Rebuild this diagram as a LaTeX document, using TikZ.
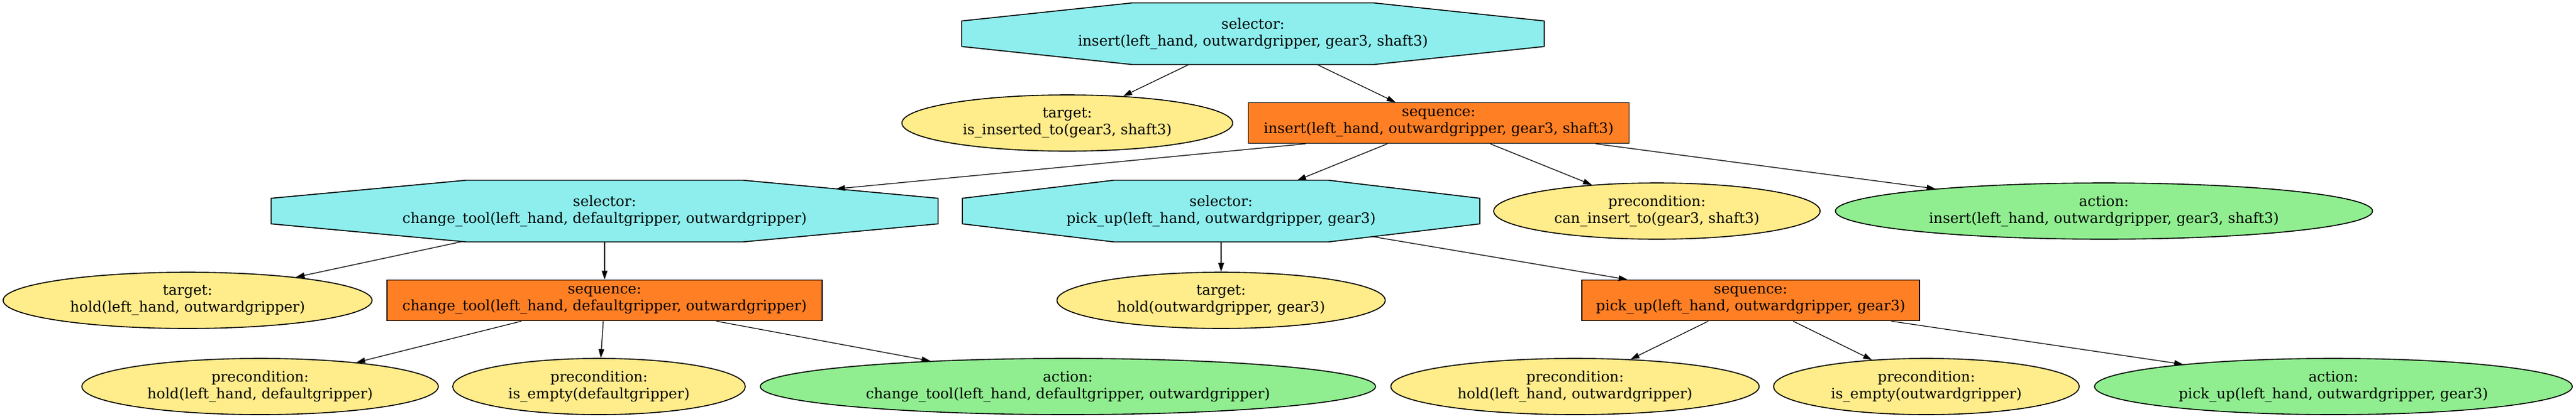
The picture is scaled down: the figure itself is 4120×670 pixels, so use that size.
\documentclass[tikz,border=0pt]{standalone}
\usepackage{fontspec}
\setmainfont{DejaVu Serif}
\usetikzlibrary{shapes,arrows.meta,calc,backgrounds}
\usepackage{xcolor}
\definecolor{selcol}{HTML}{8EEEEE}
\definecolor{seqcol}{HTML}{FF7F24}
\definecolor{condcol}{HTML}{FFEC8B}
\definecolor{actcol}{HTML}{90EE90}

\begin{document}
\begin{tikzpicture}[x=0.5pt,y=-0.5pt,%
		   font=\fontsize{11.5}{13.5}\selectfont,
		   every node/.style={align=center,inner sep=0pt},
		   selector/.style={rectangle,minimum height=49pt},
		   sequence/.style={draw,line width=0.8pt,fill=seqcol,rectangle,minimum height=32.5pt},
		   condition/.style={draw,line width=0.8pt,fill=condcol,ellipse,minimum height=45pt},
		   action/.style={draw,line width=0.8pt,fill=actcol,ellipse,minimum height=45pt},
		   octo/.style={draw,line width=0.8pt,fill=selcol},
		   edge/.style={-{Triangle[length=7pt,width=4.5pt]},line width=0.6pt}]
	\useasboundingbox (0,0) rectangle (4120,670);

	    \foreach \n/\x/\y/\s/\w/\t in {%
	       sel-insert/2004/54/selector/931/{selector:\\insert(left\_hand, outwardgripper, gear3, shaft3)},%
	       tgt-inserted/1707/197/condition/529/{target:\\is\_inserted\_to(gear3, shaft3)},%
	       seq-insert/2301/197/sequence/609/{sequence:\\insert(left\_hand, outwardgripper, gear3, shaft3)},%
	       sel-tool/967/338/selector/1066/{selector:\\change\_tool(left\_hand, defaultgripper, outwardgripper)},%
	       sel-pick/1953/338/selector/827/{selector:\\pick\_up(left\_hand, outwardgripper, gear3)},%
	       pre-insert/2650/338/condition/522/{precondition:\\can\_insert\_to(gear3, shaft3)},%
	       act-insert/3365/338/action/859/{action:\\insert(left\_hand, outwardgripper, gear3, shaft3)},%
	       tgt-holdtool/300/481/condition/590/{target:\\hold(left\_hand, outwardgripper)},%
	       seq-tool/967/481/sequence/696/{sequence:\\change\_tool(left\_hand, defaultgripper, outwardgripper)},%
	       tgt-holdgear/1953/481/condition/525/{target:\\hold(outwardgripper, gear3)},%
	       seq-pick/2800/481/sequence/540/{sequence:\\pick\_up(left\_hand, outwardgripper, gear3)},%
	       pre-holddef/416/619/condition/570/{precondition:\\hold(left\_hand, defaultgripper)},%
	       pre-emptydef/958/619/condition/468/{precondition:\\is\_empty(defaultgripper)},%
	       act-tool/1708/619/action/984/{action:\\change\_tool(left\_hand, defaultgripper, outwardgripper)},%
	       pre-holdout/2519/619/condition/589/{precondition:\\hold(left\_hand, outwardgripper)},%
	       pre-emptyout/3081/619/condition/489/{precondition:\\is\_empty(outwardgripper)},%
	       act-pick/3732/619/action/764/{action:\\pick\_up(left\_hand, outwardgripper, gear3)}%
	       } { \node[\s,minimum width=\w*0.5pt] (\n) at (\x,\y) {\t}; }

	    % octagons behind the selector texts, corners named \n-1 .. \n-8
	    \begin{scope}[on background layer]
	    \foreach \n in {sel-insert,sel-tool,sel-pick}
	       \draw[octo] ($(\n.north)!.414!(\n.north east)$) coordinate (\n-1)
	          -- ($(\n.east)!.414!(\n.north east)$) coordinate (\n-2)
	          -- ($(\n.east)!.414!(\n.south east)$) coordinate (\n-3)
	          -- ($(\n.south)!.414!(\n.south east)$) coordinate (\n-4)
	          -- ($(\n.south)!.414!(\n.south west)$) coordinate (\n-5)
	          -- ($(\n.west)!.414!(\n.south west)$) coordinate (\n-6)
	          -- ($(\n.west)!.414!(\n.north west)$) coordinate (\n-7)
	          -- ($(\n.north)!.414!(\n.north west)$) coordinate (\n-8) -- cycle;
	    \end{scope}

	    \foreach \a/\b in {sel-insert/tgt-inserted, sel-insert/seq-insert,
	       seq-insert/sel-pick, seq-insert/pre-insert, seq-insert/act-insert,
	       sel-tool/seq-tool, sel-pick/tgt-holdgear,
	       seq-tool/pre-holddef, seq-tool/pre-emptydef, seq-tool/act-tool,
	       seq-pick/pre-holdout, seq-pick/pre-emptyout, seq-pick/act-pick}
	       \draw[edge] (\a) -- (\b);

	    % edges meeting a slanted side of an octagon
	    \coordinate (tool-out) at ($(seq-insert.south)+(-213,0)$);
	    \draw[edge] (tool-out) -- (intersection of tool-out--sel-tool.center and sel-tool-1--sel-tool-2);
	    \draw[edge] (intersection of sel-tool.center--tgt-holdtool.center and sel-tool-5--sel-tool-6) -- (tgt-holdtool);
	    \draw[edge] (intersection of sel-pick.center--seq-pick.center and sel-pick-3--sel-pick-4) -- (seq-pick);
	\end{tikzpicture}
\end{document}
